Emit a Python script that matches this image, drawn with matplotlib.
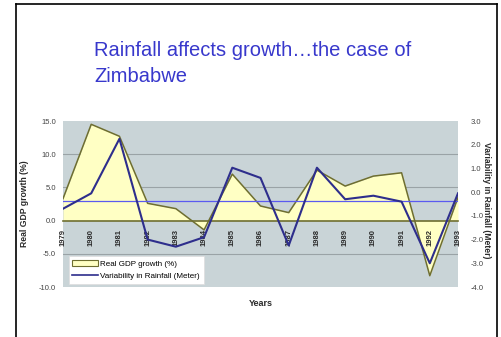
import matplotlib
matplotlib.use("Agg")
import matplotlib.pyplot as plt
from matplotlib.lines import Line2D
from matplotlib.patches import Patch

plt.rcParams['font.family'] = ['Liberation Sans', 'DejaVu Sans']

years = ["1979", "1980", "1981", "1982", "1983", "1984", "1985", "1986",
         "1987", "1988", "1989", "1990", "1991", "1992", "1993"]
gdp_growth = [3.3, 14.5, 12.7, 2.6, 1.8, -1.4, 7.0, 2.2, 1.2, 7.6, 5.2, 6.7, 7.2, -8.3, 3.5]
rainfall_var = [-0.7, -0.05, 2.25, -2.0, -2.3, -1.9, 1.03, 0.6, -2.25, 1.03, -0.3, -0.15, -0.4, -3.0, -0.05]
reference_level = 2.9

left_ticks = [15.0, 10.0, 5.0, 0.0, -5.0, -10.0]
right_ticks = [3.0, 2.0, 1.0, 0.0, -1.0, -2.0, -3.0, -4.0]

W, H = 502, 337
fig = plt.figure(figsize=(W / 100, H / 100), dpi=100)
fig.patch.set_facecolor("white")

# slide frame
fig.add_artist(Line2D([16 / W, 16 / W], [0, 1 - 4 / H], color="black", lw=1.2))
fig.add_artist(Line2D([497 / W, 497 / W], [0, 1 - 4 / H], color="black", lw=1.2))
fig.add_artist(Line2D([16 / W, 497 / W], [1 - 4 / H, 1 - 4 / H], color="black", lw=1.2))

title_color = "#3838cc"
fig.text(94 / W, 1 - 50 / H, "Rainfall affects growth\u2026the case of", color=title_color,
         fontsize=14.5, va="center", ha="left")
fig.text(94 / W, 1 - 76 / H, "Zimbabwe", color=title_color,
         fontsize=14.5, va="center", ha="left")

ax = fig.add_axes([63 / W, 1 - 287 / H, (458 - 63) / W, (287 - 121) / H])
ax.set_facecolor("#c9d4d7")
x = list(range(len(years)))

ax.set_xlim(0, len(years) - 1)
ax.set_ylim(-10, 15)
ax.set_yticks(left_ticks)
ax.set_yticklabels([f"{v:.1f}" for v in left_ticks], fontsize=5.5, color="#444444")
for v in left_ticks:
    if v not in (15.0, -10.0, 0.0):
        ax.axhline(v, color="#9aa3a6", lw=0.8, zorder=0.5)

olive = "#6e6e30"
ax.fill_between(x, 0, gdp_growth, color="#ffffc4", zorder=1, lw=0)
ax.plot(x, gdp_growth, color=olive, lw=1.1, zorder=2)
ax.axhline(reference_level, color="#5a5af0", lw=0.9, zorder=2.5)

ax.spines['bottom'].set_position(('data', 0))
ax.spines['bottom'].set_color(olive)
ax.spines['bottom'].set_linewidth(1.2)
ax.spines['bottom'].set_zorder(2.2)
for s in ("top", "left", "right"):
    ax.spines[s].set_visible(False)
ax.set_xticks(x)
ax.set_xticklabels(years, rotation=90, fontsize=5.5, fontweight="bold", color="#2a2a2a")
ax.tick_params(axis="x", length=0, pad=6)
ax.tick_params(axis="y", length=0, pad=5)

ax.text(-0.098, 0.5, "Real GDP growth (%)", transform=ax.transAxes, rotation=90,
        fontsize=6.2, fontweight="bold", ha="center", va="center", color="#2a2a2a")
ax.text(0.5, -0.102, "Years", transform=ax.transAxes, fontsize=6.5, fontweight="bold",
        ha="center", va="center", color="#2a2a2a")

ax2 = ax.twinx()
ax2.set_ylim(-4, 3)
ax2.set_yticks(right_ticks)
ax2.set_yticklabels([f"{v:.1f}" for v in right_ticks], fontsize=5.5, color="#444444")
ax2.tick_params(axis="y", length=0, pad=9)
for s in ax2.spines.values():
    s.set_visible(False)
ax2.plot(x, rainfall_var, color="#2e2e8c", lw=1.5, zorder=3)
ax2.text(1.073, 0.52, "Variability in Rainfall (Meter)", transform=ax.transAxes, rotation=270,
         fontsize=6.2, fontweight="bold", ha="center", va="center", color="#2a2a2a")

handles = [Patch(facecolor="#ffffc4", edgecolor=olive, lw=0.8),
           Line2D([], [], color="#2e2e8c", lw=1.2)]
labels = ["Real GDP growth (%)", "Variability in Rainfall (Meter)"]
leg = ax2.legend(handles, labels, loc="lower left", bbox_to_anchor=(4 / 395, 0.01),
                 fontsize=5.8, frameon=True, fancybox=False, framealpha=1,
                 edgecolor="#dddddd", borderpad=0.45, handlelength=3.2, labelspacing=0.6,
                 handletextpad=0.3, borderaxespad=0.2)
leg.get_frame().set_linewidth(0.5)

fig.savefig("out.png", dpi=100, facecolor="white")
